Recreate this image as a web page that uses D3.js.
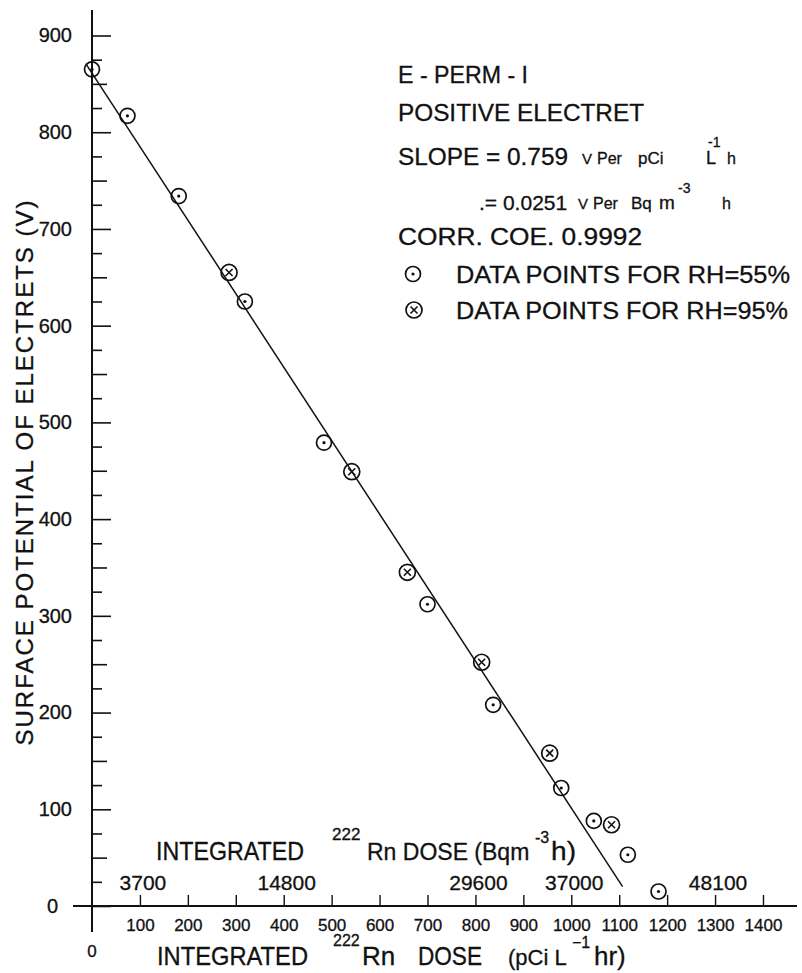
<!DOCTYPE html>
<html>
<head>
<meta charset="utf-8">
<script src="https://cdn.jsdelivr.net/npm/d3@7"></script>
<style>
  body { margin: 0; background: #fff; }
  text { font-family: "Liberation Sans", Arial, sans-serif; fill: #111; stroke: #111; stroke-width: 0.3px; }
</style>
</head>
<body>
<svg id="chart" width="802" height="973"></svg>
<script>
// dados: dose integrada (pCi L-1 h) e potencial (V)
const rh55Dose = [0, 74, 181, 319, 484, 700, 837, 979, 1047, 1118, 1182];
const rh55Potential = [865, 817, 734, 625, 479, 312, 208, 122, 88, 53, 15];

const rh95Dose = [286, 542, 658, 813, 955, 1084];
const rh95Potential = [655, 449, 345, 252, 158, 84];

// reta ajustada (extremos)
const fitDose = [-13, 1107];
const fitPotential = [871, 20];

const doseTicks = [100, 200, 300, 400, 500, 600, 700, 800, 900, 1000, 1100, 1200, 1300, 1400];
const potentialTicks = d3.range(0, 925, 25);
const bqTicks = [3700, 14800, 29600, 37000, 48100];
const bqPerPci = 37;

const legendLines = [
    "E - PERM - I",
    "POSITIVE ELECTRET",
    "SLOPE = 0.759",
    ".= 0.0251",
    "CORR. COE. 0.9992"
];
const seriesLabels = ["DATA POINTS FOR RH=55%", "DATA POINTS FOR RH=95%"];

const svg = d3.select("#chart");

const x = d3.scaleLinear().domain([0, 1400]).range([92, 763]);
const y = d3.scaleLinear().domain([0, 900]).range([906, 35.5]);

// eixo Y (marcas para dentro)
const gy = svg.append("g")
    .attr("transform", `translate(${x(0)},0)`)
    .call(d3.axisLeft(y)
        .tickValues(potentialTicks)
        .tickSizeOuter(0)
        .tickSize(-19)
        .tickPadding(20)
        .tickFormat(d => d % 100 === 0 ? d : ""))
    .attr("font-size", 20);
gy.select(".domain").remove();
gy.selectAll(".tick line")
    .attr("x2", d => d % 100 === 0 ? 19 : d % 50 === 0 ? 15 : 10)
    .attr("stroke", "#111")
    .attr("stroke-width", 1.6);
gy.selectAll(".tick").filter(d => d === 0).select("text").attr("x", -34);

// eixo X
const gx = svg.append("g")
    .attr("transform", `translate(0,${y(0)})`)
    .call(d3.axisBottom(x)
        .tickValues(doseTicks)
        .tickSizeOuter(0)
        .tickSize(-11)
        .tickPadding(13)
        .tickFormat(d3.format("d")))
    .attr("font-size", 17);
gx.select(".domain").remove();
gx.selectAll(".tick line").attr("stroke", "#111").attr("stroke-width", 1.4);

// linhas dos eixos
svg.append("line")
    .attr("x1", x(0)).attr("x2", x(0))
    .attr("y1", 10).attr("y2", 932)
    .attr("stroke", "#111").attr("stroke-width", 2);
svg.append("line")
    .attr("x1", 73).attr("x2", 797)
    .attr("y1", y(0)).attr("y2", y(0))
    .attr("stroke", "#111").attr("stroke-width", 2);

svg.append("text")
    .attr("x", x(0)).attr("y", 957)
    .attr("text-anchor", "middle")
    .attr("font-size", 17)
    .text("0");

// escala secundaria em Bq m-3 h
svg.append("g").selectAll("text")
    .data(bqTicks)
    .enter().append("text")
    .attr("x", d => x(d / bqPerPci) + 3)
    .attr("y", 890)
    .attr("text-anchor", "middle")
    .attr("font-size", 21)
    .text(d => d);

// titulo do eixo Y
svg.append("text")
    .attr("transform", "translate(33,473) rotate(-90)")
    .attr("text-anchor", "middle")
    .attr("font-size", 24)
    .attr("textLength", 545)
    .attr("lengthAdjust", "spacing")
    .text("SURFACE POTENTIAL OF ELECTRETS (V)");

// pedacos de texto com sobrescritos
function label(px, py, size, str, len) {
    const t = svg.append("text")
        .attr("x", px).attr("y", py)
        .attr("font-size", size)
        .text(str);
    if (len) t.attr("textLength", len).attr("lengthAdjust", "spacingAndGlyphs");
    return t;
}

// titulo interno (Bq)
label(156, 860, 25, "INTEGRATED", 148);
label(332, 840, 17, "222");
label(367, 860, 23, "Rn DOSE (Bqm");
label(535, 843, 16, "-3");
label(551, 860, 25, "h)", 25);

// titulo inferior (pCi)
label(157, 965, 25, "INTEGRATED", 151);
label(333, 946, 16, "222");
label(362, 965, 26, "Rn");
label(418, 965, 25, "DOSE", 64);
label(508, 965, 22, "(pCi L");
label(572, 948, 16, "\u22121");
label(594, 965, 26, "hr)");

// legenda
label(398, 83, 24, legendLines[0], 130);
label(398, 121, 24, legendLines[1], 246);
label(398, 165, 24, legendLines[2], 170);
label(582, 164, 15, "V");
label(597, 164, 16, "Per");
label(638, 164, 17, "pCi");
label(706, 164, 18, "L");
label(708, 147, 14, "-1");
label(727, 164, 16, "h");
label(479, 210, 21, legendLines[3]);
label(578, 209, 15, "V");
label(593, 209, 16, "Per");
label(631, 209, 17, "Bq");
label(659, 209, 19, "m");
label(678, 193, 14, "-3");
label(722, 209, 16, "h");
label(398, 245, 24, legendLines[4], 244);

const legendY = [274, 310];
seriesLabels.forEach((s, i) => {
    label(456, legendY[i] + 9, 24, s, i === 0 ? 334 : 332);
});

// reta de regressao
const line = d3.line().x(d => x(d[0])).y(d => y(d[1]));
svg.append("path")
    .datum(fitDose.map((d, i) => [d, fitPotential[i]]))
    .attr("d", line)
    .attr("fill", "none")
    .attr("stroke", "#111")
    .attr("stroke-width", 1.5);

// marcadores
function dotMarker(g) {
    g.append("circle").attr("r", 7.5)
        .attr("fill", "none").attr("stroke", "#111").attr("stroke-width", 1.7);
    g.append("circle").attr("r", 1.6).attr("fill", "#111");
}
function crossMarker(g) {
    g.append("circle").attr("r", 8)
        .attr("fill", "none").attr("stroke", "#111").attr("stroke-width", 1.7);
    g.append("path").attr("d", "M-3.5,-3.5L3.5,3.5M3.5,-3.5L-3.5,3.5")
        .attr("stroke", "#111").attr("stroke-width", 1.6);
}

const pts55 = rh55Dose.map((d, i) => ({ dose: d, v: rh55Potential[i] }));
const pts95 = rh95Dose.map((d, i) => ({ dose: d, v: rh95Potential[i] }));

svg.append("g").selectAll("g")
    .data(pts55)
    .enter().append("g")
    .attr("transform", d => `translate(${x(d.dose)},${y(d.v)})`)
    .each(function () { dotMarker(d3.select(this)); });

svg.append("g").selectAll("g")
    .data(pts95)
    .enter().append("g")
    .attr("transform", d => `translate(${x(d.dose)},${y(d.v)})`)
    .each(function () { crossMarker(d3.select(this)); });

// simbolos da legenda
dotMarker(svg.append("g").attr("transform", `translate(413,${legendY[0]})`));
crossMarker(svg.append("g").attr("transform", `translate(414,${legendY[1]})`));
</script>
</body>
</html>
